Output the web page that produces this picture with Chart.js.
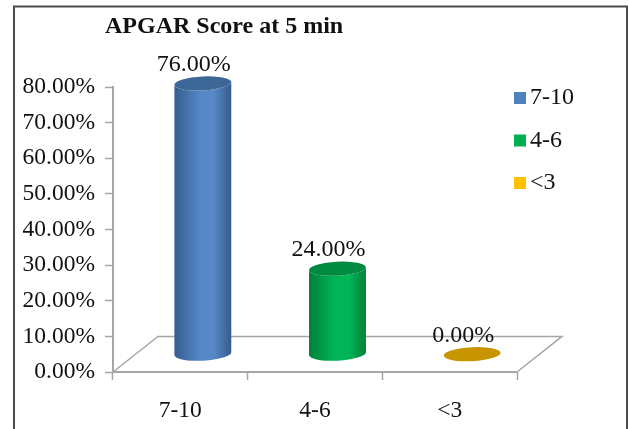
<!DOCTYPE html>
<html>
<head>
<meta charset="utf-8">
<title>APGAR Score at 5 min</title>
<script src="https://cdn.jsdelivr.net/npm/chart.js@4/dist/chart.umd.min.js"></script>
<style>
    html, body { margin: 0; padding: 0; background: #ffffff; }
    canvas { display: block; filter: blur(0.4px); }
</style>
</head>
<body>
<canvas id="apgar-chart" width="629" height="429"></canvas>
<script>
var categories = ["7-10", "4-6", "<3"];
var percent_values = [76, 24, 0];
var y_tick_values = [0, 10, 20, 30, 40, 50, 60, 70, 80];
var bar_colors = ["#4f81bd", "#00b050", "#ffc000"];
var side_edge_colors = ["#345d8c", "#00803a", "#c69500"];
var side_mid_colors = ["#5687c6", "#00b556", "#c69500"];
var top_colors = ["#3d6796", "#008a40", "#c69500"];

var font_name = "'Liberation Serif', 'Times New Roman', serif";
var text_color = "#111111";
var axis_color = "#a6a6a6";

function percent_label(value)
{
    return value.toFixed(2) + "%";
}

// the picture is a fake 3D chart: the floor goes back by one y step
function floor_depth(chart)
{
    var y = chart.scales.y;
    return { x: 45, y: y.getPixelForValue(0) - y.getPixelForValue(10) };
}

function draw_cylinder(ctx, cx, top_y, base_y, half_w, i)
{
    var ry = 7;
    var tilt = -0.05;

    if (top_y < base_y) {
        var side = ctx.createLinearGradient(cx - half_w, 0, cx + half_w, 0);
        side.addColorStop(0, side_edge_colors[i]);
        side.addColorStop(0.45, side_mid_colors[i]);
        side.addColorStop(0.7, side_mid_colors[i]);
        side.addColorStop(1, side_edge_colors[i]);

        ctx.fillStyle = side;
        ctx.beginPath();
        ctx.ellipse(cx, base_y, half_w, ry, tilt, 0, Math.PI);
        ctx.ellipse(cx, top_y, half_w, ry, tilt, Math.PI, 0, true);
        ctx.closePath();
        ctx.fill();
    }

    ctx.fillStyle = top_colors[i];
    ctx.beginPath();
    ctx.ellipse(cx, top_y, half_w, ry, tilt, 0, Math.PI * 2);
    ctx.fill();
}

var apgar_plugin = {
    id: "apgar_plugin",
    afterLayout: function (chart) {
        // title sits left of the plot centre in the original
        chart.titleBlock.left = 105;
    },
    beforeDraw: function (chart) {
        var ctx = chart.ctx;
        ctx.save();
        ctx.strokeStyle = "#4a4a4a";
        ctx.lineWidth = 2;
        ctx.beginPath();
        ctx.moveTo(14, 429);
        ctx.lineTo(14, 6.5);
        ctx.lineTo(627, 6.5);
        ctx.lineTo(627, 429);
        ctx.stroke();
        ctx.restore();
    },
    beforeDatasetsDraw: function (chart) {
        var ctx = chart.ctx;
        var area = chart.chartArea;
        var depth = floor_depth(chart);
        ctx.save();
        ctx.strokeStyle = axis_color;
        ctx.lineWidth = 1.5;
        ctx.beginPath();
        ctx.moveTo(area.left, area.bottom);
        ctx.lineTo(area.left + depth.x, area.bottom - depth.y);
        ctx.lineTo(area.right + depth.x, area.bottom - depth.y);
        ctx.lineTo(area.right, area.bottom);
        ctx.stroke();
        ctx.restore();
    },
    beforeDatasetDraw: function (chart, args) {
        var ctx = chart.ctx;
        var depth = floor_depth(chart);
        ctx.save();
        args.meta.data.forEach(function (bar, i) {
            draw_cylinder(ctx, bar.x + depth.x / 2, bar.y - depth.y / 2, bar.base - depth.y / 2, bar.width / 2, i);
        });
        ctx.restore();
        return false;
    },
    afterDatasetsDraw: function (chart) {
        var ctx = chart.ctx;
        var depth = floor_depth(chart);
        var bars = chart.getDatasetMeta(0).data;
        ctx.save();
        ctx.font = "24px " + font_name;
        ctx.fillStyle = text_color;
        ctx.textAlign = "center";
        ctx.textBaseline = "middle";
        bars.forEach(function (bar, i) {
            ctx.fillText(percent_label(percent_values[i]), bar.x + depth.x / 2 - 9, bar.y - depth.y / 2 - 18.5);
        });

        // legend overlaps the floor column, so it is placed by hand
        ctx.textAlign = "left";
        categories.forEach(function (name, i) {
            var row_y = 98 + i * 42.5;
            ctx.fillStyle = bar_colors[i];
            ctx.fillRect(514, row_y - 6, 12, 12);
            ctx.fillStyle = text_color;
            ctx.fillText(name, 530, row_y);
        });
        ctx.restore();
    }
};

var apgar_chart = new Chart(document.getElementById("apgar-chart").getContext("2d"), {
    type: "bar",
    data: {
        labels: categories,
        datasets: [{
            data: percent_values,
            backgroundColor: bar_colors,
            categoryPercentage: 1,
            barPercentage: 0.423
        }]
    },
    options: {
        responsive: false,
        animation: false,
        layout: { padding: { left: 0, right: 112, top: 0, bottom: 0 } },
        plugins: {
            legend: { display: false },
            tooltip: { enabled: false },
            title: {
                display: true,
                text: "APGAR Score at 5 min",
                align: "start",
                color: text_color,
                font: { family: font_name, size: 24, weight: "bold", lineHeight: 1.2 },
                padding: { top: 12, bottom: 46.2 }
            }
        },
        scales: {
            x: {
                border: { color: axis_color, width: 2 },
                grid: { drawOnChartArea: false, tickColor: axis_color, tickLength: 8, tickWidth: 1.5 },
                ticks: {
                    color: text_color,
                    font: { family: font_name, size: 23.5 },
                    padding: 17,
                    maxRotation: 0
                },
                afterFit: function (scale) { scale.height = 57; }
            },
            y: {
                min: 0,
                max: 80,
                afterBuildTicks: function (scale) {
                    scale.ticks = y_tick_values.map(function (v) { return { value: v }; });
                },
                border: { color: axis_color, width: 2 },
                grid: { drawOnChartArea: false, tickColor: axis_color, tickLength: 8, tickWidth: 1.5 },
                ticks: {
                    color: text_color,
                    font: { family: font_name, size: 23.5 },
                    padding: 10,
                    callback: function (value) { return percent_label(value); }
                },
                afterFit: function (scale) { scale.width = 113; }
            }
        }
    },
    plugins: [apgar_plugin]
});
</script>
</body>
</html>
